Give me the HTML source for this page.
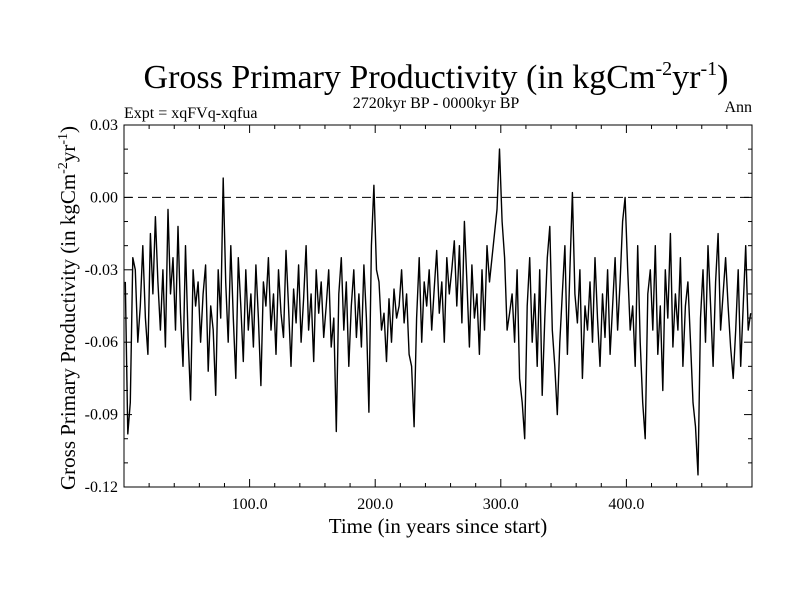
<!DOCTYPE html>
<html><head><meta charset="utf-8"><style>
body{margin:0;background:#fff}
svg{display:block;font-family:"Liberation Serif",serif}
</style></head><body>
<svg id="chart" width="800" height="600" viewBox="0 0 800 600">
<text x="436" y="88" font-size="34" text-anchor="middle">Gross Primary Productivity (in kgCm<tspan dy="-13" font-size="20">-2</tspan><tspan dy="13">yr</tspan><tspan dy="-13" font-size="20">-1</tspan><tspan dy="13">)</tspan></text>
<text x="436" y="108" font-size="16" text-anchor="middle">2720kyr BP - 0000kyr BP</text>
<text x="124" y="118" font-size="16">Expt = xqFVq-xqfua</text>
<text x="752" y="112" font-size="16" text-anchor="end">Ann</text>
<text x="438" y="533" font-size="21" text-anchor="middle">Time (in years since start)</text>
<text transform="translate(75,308) rotate(-90)" font-size="21" text-anchor="middle">Gross Primary Productivity (in kgCm<tspan dy="-8" font-size="14">-2</tspan><tspan dy="8">yr</tspan><tspan dy="-8" font-size="14">-1</tspan><tspan dy="8">)</tspan></text>
<g id="ticks"></g>
<line id="zero" x1="124" x2="752" stroke="#000" stroke-width="1" stroke-dasharray="9,5"/>
<polyline id="series" fill="none" stroke="#000" stroke-width="1.4" stroke-linejoin="round"/>
<rect x="124" y="125" width="628" height="362" fill="none" stroke="#000" stroke-width="1"/>
</svg>
<script>
const yearStart = 1, yearStep = 2;
const gppMilli = [
-35,-98,-85,-25,-30,-60,-45,-20,-50,-65,
-15,-40,-8,-35,-55,-30,-62,-5,-40,-25,
-55,-12,-48,-70,-20,-58,-84,-30,-45,-35,
-60,-40,-28,-72,-45,-55,-82,-30,-50,8,
-35,-60,-20,-50,-75,-25,-45,-68,-30,-55,
-40,-62,-28,-50,-78,-35,-45,-25,-55,-40,
-65,-30,-48,-58,-22,-45,-70,-38,-52,-28,
-60,-42,-20,-55,-40,-68,-30,-48,-35,-58,
-45,-30,-62,-50,-97,-40,-25,-55,-35,-70,
-45,-30,-58,-40,-62,-28,-50,-89,-20,5,
-30,-35,-55,-48,-68,-42,-60,-38,-50,-45,
-30,-52,-40,-65,-70,-95,-50,-25,-60,-35,
-45,-30,-55,-38,-22,-48,-35,-60,-25,-40,
-30,-18,-45,-20,-52,-10,-35,-62,-28,-50,
-40,-65,-30,-55,-20,-35,-25,-15,-5,20,
-10,-25,-55,-48,-40,-60,-30,-75,-85,-100,
-45,-25,-60,-40,-70,-30,-82,-50,-25,-12,
-55,-70,-90,-60,-40,-20,-65,-30,2,-40,
-52,-30,-75,-45,-55,-35,-60,-25,-50,-70,
-40,-58,-30,-65,-45,-25,-55,-35,-10,0,
-30,-55,-45,-70,-20,-60,-85,-100,-40,-30,
-55,-20,-65,-45,-80,-30,-50,-15,-62,-40,
-55,-25,-70,-45,-35,-60,-85,-95,-115,-50,
-30,-60,-20,-45,-70,-35,-15,-55,-40,-25,
-45,-62,-75,-55,-30,-70,-45,-20,-55,-48
];
const yTickValues = [0.03,0.00,-0.03,-0.06,-0.09,-0.12];
const yTickLabels = ["0.03","0.00","-0.03","-0.06","-0.09","-0.12"];
const xTickValues = [100,200,300,400];
const xTickLabels = ["100.0","200.0","300.0","400.0"];

const L=124,R=752,T=125,B=487, xMin=0,xMax=500,yMin=-0.12,yMax=0.03;
const sx=v=>L+(v-xMin)/(xMax-xMin)*(R-L);
const sy=v=>T+(yMax-v)/(yMax-yMin)*(B-T);
const NS="http://www.w3.org/2000/svg";
const g=document.getElementById('ticks');
function ln(x1,y1,x2,y2){const l=document.createElementNS(NS,'line');l.setAttribute('x1',x1);l.setAttribute('y1',y1);l.setAttribute('x2',x2);l.setAttribute('y2',y2);l.setAttribute('stroke','#000');


g.appendChild(l);}
function tx(x,y,s,anchor,name){const t=document.createElementNS(NS,'text');t.setAttribute('x',x);t.setAttribute('y',y);t.setAttribute('font-size','16');t.setAttribute('text-anchor',anchor);t.textContent=s;


g.appendChild(t);}
for(let v=-0.12;v<=0.0301;v+=0.01){const y=sy(v);const major=Math.abs(Math.round(v*100)%3)===0;const len=major?8:4;ln(L,y,L+len,y);ln(R,y,R-len,y);}
for(let v=20;v<500;v+=20){const x=sx(v);const len=v%100===0?8:4;ln(x,B,x,B-len);ln(x,T,x,T+len);}
yTickValues.forEach((v,i)=>tx(L-6,sy(v)+5,yTickLabels[i],'end','y-tick-label'));
xTickValues.forEach((v,i)=>tx(sx(v),B+22,xTickLabels[i],'middle','x-tick-label'));
const z=document.getElementById('zero');z.setAttribute('y1',sy(0));z.setAttribute('y2',sy(0));
document.getElementById('series').setAttribute('points',gppMilli.map((m,i)=>sx(yearStart+i*yearStep).toFixed(1)+','+sy(m/1000).toFixed(1)).join(' '));
</script>
</body></html>
